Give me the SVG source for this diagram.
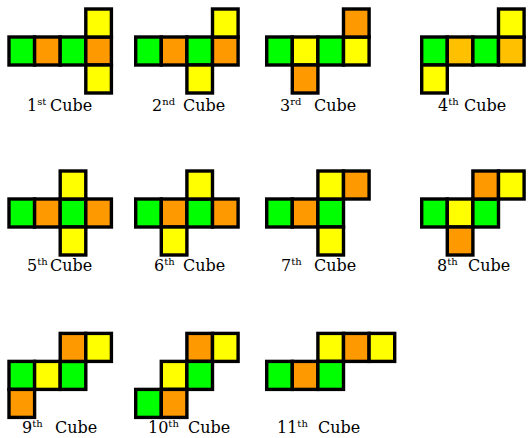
<svg xmlns="http://www.w3.org/2000/svg" width="528" height="438" viewBox="0 0 528 438">
<style>
rect.g,rect.o,rect.y,rect.a{stroke:#000;stroke-width:3.4}
.g{fill:#00ff00}.o{fill:#ff9900}.y{fill:#ffff00}.a{fill:#ffc000}
text{font-family:'DejaVu Serif',serif;font-size:16px;fill:#000}
tspan.s{font-size:10px}
</style>
<rect x="0" y="0" width="528" height="438" fill="#ffffff"/>
<g id="cube1">
<rect class="g" x="9" y="37" width="25.6" height="28"/><rect class="o" x="34.6" y="37" width="25.6" height="28"/><rect class="g" x="60.2" y="37" width="25.6" height="28"/><rect class="o" x="85.8" y="37" width="25.6" height="28"/>
<rect class="y" x="85.8" y="9" width="25.6" height="28"/><rect class="y" x="85.8" y="65" width="25.6" height="28"/>
<text x="27" y="111">1<tspan class="s" dy="-6">st</tspan><tspan x="50" dy="6">Cube</tspan></text>
</g>
<g id="cube2">
<rect class="g" x="135.7" y="37" width="25.6" height="28"/><rect class="o" x="161.3" y="37" width="25.6" height="28"/><rect class="g" x="186.9" y="37" width="25.6" height="28"/><rect class="o" x="212.5" y="37" width="25.6" height="28"/>
<rect class="y" x="212.5" y="9" width="25.6" height="28"/><rect class="y" x="186.9" y="65" width="25.6" height="28"/>
<text x="152" y="111">2<tspan class="s" dy="-6">nd</tspan><tspan x="183" dy="6">Cube</tspan></text>
</g>
<g id="cube3">
<rect class="g" x="266.7" y="37" width="25.6" height="28"/><rect class="y" x="292.3" y="37" width="25.6" height="28"/><rect class="g" x="317.9" y="37" width="25.6" height="28"/><rect class="y" x="343.5" y="37" width="25.6" height="28"/>
<rect class="o" x="343.5" y="9" width="25.6" height="28"/><rect class="o" x="292.3" y="65" width="25.6" height="28"/>
<text x="280" y="111">3<tspan class="s" dy="-6">rd</tspan><tspan x="314" dy="6">Cube</tspan></text>
</g>
<g id="cube4">
<rect class="g" x="421.7" y="37" width="25.6" height="28"/><rect class="a" x="447.3" y="37" width="25.6" height="28"/><rect class="g" x="472.9" y="37" width="25.6" height="28"/><rect class="a" x="498.5" y="37" width="25.6" height="28"/>
<rect class="y" x="498.5" y="9" width="25.6" height="28"/><rect class="y" x="421.7" y="65" width="25.6" height="28"/>
<text x="438" y="111">4<tspan class="s" dy="-6">th</tspan><tspan x="464" dy="6">Cube</tspan></text>
</g>
<g id="cube5">
<rect class="g" x="9" y="199" width="25.6" height="28"/><rect class="o" x="34.6" y="199" width="25.6" height="28"/><rect class="g" x="60.2" y="199" width="25.6" height="28"/><rect class="o" x="85.8" y="199" width="25.6" height="28"/>
<rect class="y" x="60.2" y="171" width="25.6" height="28"/><rect class="y" x="60.2" y="227" width="25.6" height="28"/>
<text x="27" y="271">5<tspan class="s" dy="-6">th</tspan><tspan x="50" dy="6">Cube</tspan></text>
</g>
<g id="cube6">
<rect class="g" x="135.7" y="199" width="25.6" height="28"/><rect class="o" x="161.3" y="199" width="25.6" height="28"/><rect class="g" x="186.9" y="199" width="25.6" height="28"/><rect class="o" x="212.5" y="199" width="25.6" height="28"/>
<rect class="y" x="186.9" y="171" width="25.6" height="28"/><rect class="y" x="161.3" y="227" width="25.6" height="28"/>
<text x="154" y="271">6<tspan class="s" dy="-6">th</tspan><tspan x="183" dy="6">Cube</tspan></text>
</g>
<g id="cube7">
<rect class="g" x="266.7" y="199" width="25.6" height="28"/><rect class="o" x="292.3" y="199" width="25.6" height="28"/><rect class="g" x="317.9" y="199" width="25.6" height="28"/>
<rect class="y" x="317.9" y="171" width="25.6" height="28"/><rect class="o" x="343.5" y="171" width="25.6" height="28"/>
<rect class="y" x="317.9" y="227" width="25.6" height="28"/>
<text x="281" y="271">7<tspan class="s" dy="-6">th</tspan><tspan x="314" dy="6">Cube</tspan></text>
</g>
<g id="cube8">
<rect class="g" x="421.7" y="199" width="25.6" height="28"/><rect class="y" x="447.3" y="199" width="25.6" height="28"/><rect class="g" x="472.9" y="199" width="25.6" height="28"/>
<rect class="o" x="472.9" y="171" width="25.6" height="28"/><rect class="y" x="498.5" y="171" width="25.6" height="28"/>
<rect class="o" x="447.3" y="227" width="25.6" height="28"/>
<text x="437" y="271">8<tspan class="s" dy="-6">th</tspan><tspan x="468" dy="6">Cube</tspan></text>
</g>
<g id="cube9">
<rect class="g" x="9" y="361.4" width="25.6" height="28"/><rect class="y" x="34.6" y="361.4" width="25.6" height="28"/><rect class="g" x="60.2" y="361.4" width="25.6" height="28"/>
<rect class="o" x="60.2" y="333.4" width="25.6" height="28"/><rect class="y" x="85.8" y="333.4" width="25.6" height="28"/>
<rect class="o" x="9" y="389.4" width="25.6" height="28"/>
<text x="22" y="433">9<tspan class="s" dy="-6">th</tspan><tspan x="55" dy="6">Cube</tspan></text>
</g>
<g id="cube10">
<rect class="o" x="186.9" y="333.4" width="25.6" height="28"/><rect class="y" x="212.5" y="333.4" width="25.6" height="28"/>
<rect class="y" x="161.3" y="361.4" width="25.6" height="28"/><rect class="g" x="186.9" y="361.4" width="25.6" height="28"/>
<rect class="g" x="135.7" y="389.4" width="25.6" height="28"/><rect class="o" x="161.3" y="389.4" width="25.6" height="28"/>
<text x="148" y="433">10<tspan class="s" dy="-6">th</tspan><tspan x="188" dy="6">Cube</tspan></text>
</g>
<g id="cube11">
<rect class="y" x="317.9" y="333.4" width="25.6" height="28"/><rect class="o" x="343.5" y="333.4" width="25.6" height="28"/><rect class="y" x="369.1" y="333.4" width="25.6" height="28"/>
<rect class="g" x="266.7" y="361.4" width="25.6" height="28"/><rect class="o" x="292.3" y="361.4" width="25.6" height="28"/><rect class="g" x="317.9" y="361.4" width="25.6" height="28"/>
<text x="277" y="433">11<tspan class="s" dy="-6">th</tspan><tspan x="318" dy="6">Cube</tspan></text>
</g>
<g id="connectors"/>
</svg>
